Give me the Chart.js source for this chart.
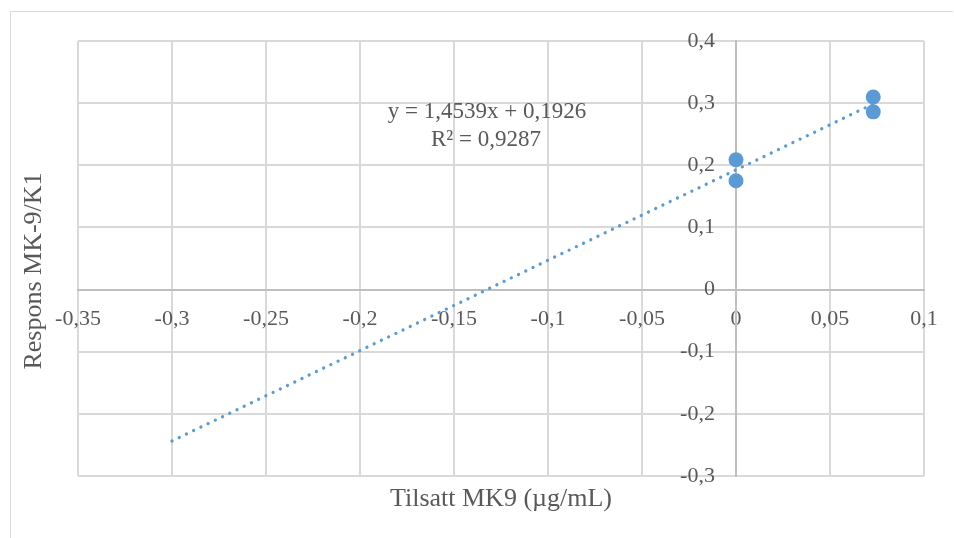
<!DOCTYPE html>
<html>
<head>
<meta charset="utf-8">
<script src="https://cdn.jsdelivr.net/npm/chart.js@4/dist/chart.umd.min.js"></script>
<style>
  html, body { margin: 0; padding: 0; background: #ffffff; }
  #wrap { width: 954px; height: 538px; position: relative; }
</style>
</head>
<body>
<div id="wrap"><canvas id="c" width="954" height="538"></canvas></div>
<script>
// ---- data ----
const pointX = [0, 0, 0.073, 0.073];
const pointY = [0.209, 0.175, 0.310, 0.286];
const trendX = [-0.3, 0.073];
const trendY = [-0.2436, 0.2987];
const xTickRange = [-0.35, 0.1, 0.05];   // min, max, step
const yTickRange = [-0.3, 0.4, 0.1];
const xTitle = 'Tilsatt MK9 (µg/mL)';
const yTitle = 'Respons MK-9/K1';
const equationLines = ['y = 1,4539x + 0,1926', 'R² = 0,9287'];

const FONT = "'Liberation Serif', 'Times New Roman', serif";
const TEXT = '#595959';
const BLUE = '#5b9bd5';

function fmt(v) {
  const r = Math.round(v * 100) / 100;
  return String(r).replace('.', ',');
}

const decorations = {
  id: 'decorations',
  beforeDraw(chart) {
    const ctx = chart.ctx;
    ctx.save();
    ctx.fillStyle = '#ffffff';
    ctx.fillRect(0, 0, chart.width, chart.height);
    ctx.strokeStyle = '#d9d9d9';
    ctx.lineWidth = 1;
    ctx.beginPath();
    ctx.moveTo(10.5, 600);
    ctx.lineTo(10.5, 11.5);
    ctx.lineTo(953, 11.5);
    ctx.stroke();
    ctx.restore();
  },
  afterDraw(chart) {
    const ctx = chart.ctx;
    const area = chart.chartArea;
    ctx.save();
    ctx.fillStyle = TEXT;
    // axis titles
    ctx.font = '26px ' + FONT;
    ctx.textAlign = 'center';
    ctx.textBaseline = 'middle';
    ctx.fillText(xTitle, (area.left + area.right) / 2, 499);
    ctx.save();
    ctx.translate(34, 271);
    ctx.rotate(-Math.PI / 2);
    ctx.fillText(yTitle, 0, 0);
    ctx.restore();
    // trendline label
    ctx.font = '23px ' + FONT;
    ctx.fillText(equationLines[0], 487, 112);
    ctx.fillText(equationLines[1], 486, 140);
    ctx.restore();
  }
};

new Chart(document.getElementById('c'), {
  type: 'scatter',
  data: {
    datasets: [
      {
        label: 'Respons',
        data: pointX.map((x, i) => ({ x: x, y: pointY[i] })),
        backgroundColor: BLUE,
        borderColor: BLUE,
        pointRadius: 7.5,
        pointHoverRadius: 7.5,
        borderWidth: 0,
        order: 1
      },
      {
        label: 'Lineær (Respons)',
        data: trendX.map((x, i) => ({ x: x, y: trendY[i] })),
        showLine: true,
        borderColor: BLUE,
        borderWidth: 3.3,
        borderDash: [0.01, 8],
        borderCapStyle: 'round',
        pointRadius: 0,
        fill: false,
        order: 2
      }
    ]
  },
  options: {
    responsive: false,
    animation: false,
    events: [],
    layout: { padding: { left: 78, top: 41, right: 30, bottom: 62 } },
    plugins: {
      legend: { display: false },
      tooltip: { enabled: false }
    },
    scales: {
      x: {
        type: 'linear',
        position: { y: 0 },
        min: xTickRange[0],
        max: xTickRange[1],
        ticks: {
          stepSize: xTickRange[2],
          callback: v => fmt(v),
          color: TEXT,
          font: { family: FONT, size: 22 },
          padding: 16,
          maxRotation: 0,
          autoSkip: false
        },
        grid: { color: '#d9d9d9', lineWidth: 2, drawTicks: false },
        border: { display: true, color: '#bfbfbf', width: 2 }
      },
      y: {
        type: 'linear',
        position: { x: 0 },
        min: yTickRange[0],
        max: yTickRange[1],
        ticks: { stepSize: yTickRange[2], display: false },
        grid: { color: '#d9d9d9', lineWidth: 2, drawTicks: false },
        border: { display: true, color: '#bfbfbf', width: 2 }
      },
      yLabels: {
        type: 'linear',
        position: { x: -0.0112 },
        min: yTickRange[0],
        max: yTickRange[1],
        ticks: {
          stepSize: yTickRange[2],
          callback: v => fmt(v),
          color: TEXT,
          font: { family: FONT, size: 22 },
          autoSkip: false
        },
        grid: { display: false, drawTicks: false },
        border: { display: false }
      }
    }
  },
  plugins: [decorations]
});
</script>
</body>
</html>
